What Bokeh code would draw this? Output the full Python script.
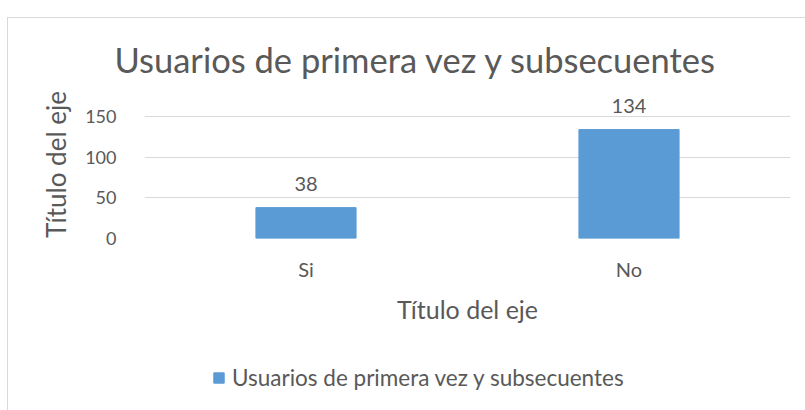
from bokeh.plotting import figure
from bokeh.layouts import column
from bokeh.models import Legend, LegendItem, ColumnDataSource, Range1d, FixedTicker
from bokeh.core.properties import value
from bokeh.embed import file_html
from bokeh.resources import INLINE

categories = ["Si", "No"]
counts = [38, 134]
y_ticks = [0, 50, 100, 150]
title_text = "Usuarios de primera vez y subsecuentes"
series_name = "Usuarios de primera vez y subsecuentes"
axis_title = "Título del eje"

FONT = "Lato"
GREY = "#595959"
BAR = "#5b9bd5"

src = ColumnDataSource(dict(cat=categories, val=counts, lab=[str(v) for v in counts]))

p = figure(x_range=categories, width=798, height=330, output_backend="svg",
           toolbar_location=None,
           min_border_left=136, min_border_right=16, min_border_top=72, min_border_bottom=110)
p.y_range = Range1d(0, 182)
p.outline_line_color = None
p.background_fill_color = "white"
p.border_fill_color = "white"

r = p.vbar(x="cat", top="val", width=0.31, color=BAR, source=src)
p.text(x="cat", y="val", text="lab", source=src, y_offset=-17,
       text_align="center", text_baseline="bottom", text_color=GREY,
       text_font=value(FONT), text_font_size="20px")

p.xgrid.grid_line_color = None
p.ygrid.grid_line_color = "#d9d9d9"
p.yaxis.ticker = FixedTicker(ticks=y_ticks)
for ax in (p.xaxis, p.yaxis):
    ax.axis_line_color = None
    ax.major_tick_line_color = None
    ax.minor_tick_line_color = None
    ax.major_label_text_color = GREY
    ax.major_label_text_font = FONT
    ax.axis_label_text_color = GREY
    ax.axis_label_text_font = FONT
    ax.axis_label_text_font_style = "normal"
p.yaxis.major_label_text_font_size = "18px"
p.xaxis.major_label_text_font_size = "20px"
p.xaxis.axis_label_text_font_size = "25px"
p.yaxis.axis_label_text_font_size = "26px"
p.yaxis.major_label_standoff = 22
p.xaxis.major_label_standoff = 12
p.xaxis.axis_label = axis_title
p.yaxis.axis_label = axis_title
p.xaxis.axis_label_standoff = 10
p.yaxis.axis_label_standoff = 10

p.title.text = title_text
p.title.align = "left"
p.title.offset = -30
p.title.standoff = 21
p.title.text_color = GREY
p.title.text_font = FONT
p.title.text_font_size = "34.5px"
p.title.text_font_style = "normal"

# legend strip below the chart
p2 = figure(width=798, height=63, output_backend="svg", toolbar_location=None,
            min_border=0, x_range=(0, 1), y_range=(0, 1))
p2.outline_line_color = None
p2.xaxis.visible = False
p2.yaxis.visible = False
p2.grid.visible = False
key = p2.vbar(x=[0.5], top=[-5], bottom=[-6], width=0.1, color=BAR)
legend = Legend(items=[LegendItem(label=series_name, renderers=[key])],
                location=(68, 20), orientation="horizontal",
                label_text_color=GREY, label_text_font=FONT, label_text_font_size="22.5px",
                glyph_width=13, glyph_height=13, padding=0, margin=0, spacing=0,
                label_standoff=7, border_line_color=None, background_fill_alpha=0)
p2.add_layout(legend, "center")

layout = column(p, p2, spacing=0, margin=(17, 0, 0, 7),
                styles={"border": "1px solid #d9d9d9"})

open("out.html", "w").write(file_html(layout, INLINE))
